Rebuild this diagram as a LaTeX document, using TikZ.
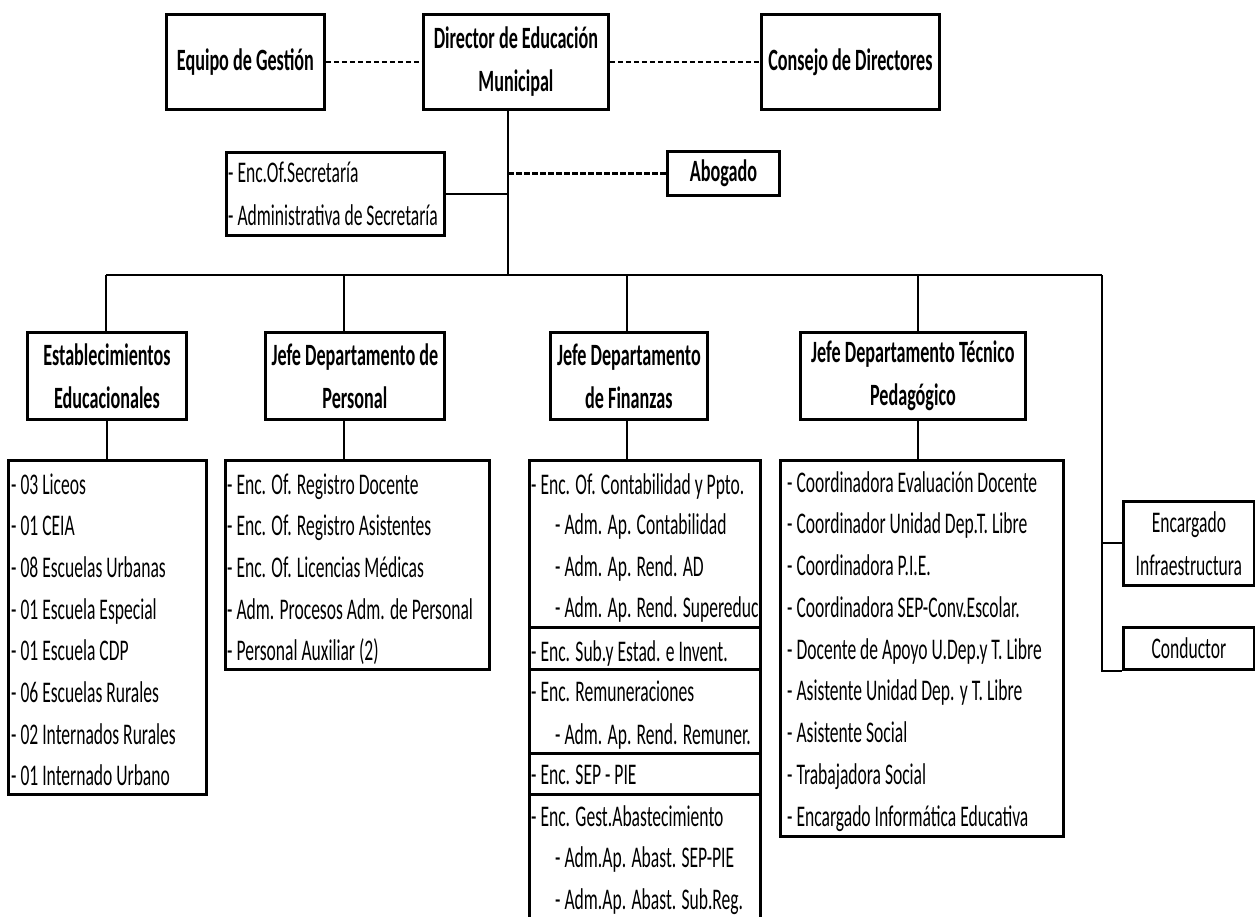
\documentclass[tikz,border=0pt]{standalone}
\usepackage{fontspec}
\setmainfont{Carlito}[FakeStretch=0.585]
\usetikzlibrary{calc}
\begin{document}
\begin{tikzpicture}[x=1pt,y=-1pt,
  box/.style={draw, line width=2.8pt, rectangle, inner sep=0pt, anchor=north west},
  conn/.style={line width=2.1pt},
  dashline/.style={line width=2.4pt, dash pattern=on 5.5pt off 2.5pt},
  hd/.style={font=\fontsize{31}{43}\selectfont\bfseries, align=center},
  rg/.style={font=\fontsize{30}{43}\selectfont, align=center},
  lt/.style={font=\fontsize{30}{34}\selectfont, anchor=base west, inner sep=0pt}]
\useasboundingbox (0,0) rectangle (1255,916);

% top row
\node[box, hd, minimum width=158pt, minimum height=95pt] (eq) at (165,13) {Equipo de Gestión};
\node[box, hd, minimum width=185pt, minimum height=95pt] (dir) at (422,13) {Director de Educación\\Municipal};
\node[box, hd, minimum width=178pt, minimum height=95pt] (cons) at (760,13) {Consejo de Directores};
\draw[dashline] (eq.east) -- (dir.west);
\draw[dashline] (dir.east) -- (cons.west);

% staff
\node[box, minimum width=218pt, minimum height=83pt] (sec) at (225,151) {};
\node[lt] (sec1) at (228,182) {- Enc.Of.Secretaría};
\node[lt] (sec2) at (228,225) {- Administrativa de Secretaría};
\node[box, hd, minimum width=112pt, minimum height=44pt] (abo) at (666,150) {Abogado};

\coordinate (tr) at (508,275);
\draw[conn] (dir.south -| tr) -- (tr);
\draw[conn] (sec.east) -- (sec.east -| tr);
\draw[dashline] (abo.west -| tr) -- (abo.west);

% bus
\coordinate (bl) at (106,275);
\coordinate (br) at (1102,275);
\coordinate (pd) at (344,275);
\coordinate (fd) at (627,275);
\coordinate (td) at (918,275);
\draw[conn] (bl) -- (br);

% level 2
\node[box, hd, minimum width=159pt, minimum height=87pt] (est) at (26,331) {Establecimientos\\Educacionales};
\node[box, hd, minimum width=179pt, minimum height=87pt] (per) at (264,331) {Jefe Departamento de\\Personal};
\node[box, hd, minimum width=157pt, minimum height=87pt] (fin) at (549,331) {Jefe Departamento\\de Finanzas};
\node[box, hd, minimum width=225pt, minimum height=87pt] (tec) at (799,331) {Jefe Departamento Técnico\\Pedagógico};

% level 3
\node[box, minimum width=198pt, minimum height=334pt] (lic) at (7,459) {};
\node[box, minimum width=264pt, minimum height=209pt] (plist) at (224,459) {};
\node[box, minimum width=231pt, minimum height=167pt] (f1) at (528,459) {};
\node[box, minimum width=231pt, minimum height=42pt] (f2) at (528,626) {};
\node[box, minimum width=231pt, minimum height=84pt] (f3) at (528,668) {};
\node[box, minimum width=231pt, minimum height=41pt] (f4) at (528,752) {};
\node[box, minimum width=231pt, minimum height=140pt] (f5) at (528,793) {};
\node[box, minimum width=283pt, minimum height=376pt] (tlist) at (779,459) {};

\node[box, rg, minimum width=131pt, minimum height=84pt] (enc) at (1122,500) {Encargado\\Infraestructura};
\node[box, rg, minimum width=131pt, minimum height=42pt] (cond) at (1122,626) {Conductor};

% connectors
\draw[conn] (bl) -- (bl |- est.north);
\draw[conn] (est.south) -- (est.south |- lic.north);
\draw[conn] (pd) -- (pd |- per.north);
\draw[conn] (per.south -| pd) -- (pd |- plist.north);
\draw[conn] (fd) -- (fd |- fin.north);
\draw[conn] (fin.south -| fd) -- (fd |- f1.north);
\draw[conn] (td) -- (td |- tec.north);
\draw[conn] (tec.south -| td) -- (td |- tlist.north);
\draw[conn] (br) -- (br |- cond.south) -- (cond.south west);
\draw[conn] (br |- enc.west) -- (enc.west);

% list texts
\foreach \t [count=\i from 0] in {- 03 Liceos, - 01 CEIA, - 08 Escuelas Urbanas, - 01 Escuela Especial, - 01 Escuela CDP, - 06 Escuelas Rurales, - 02 Internados Rurales, - 01 Internado Urbano}
  \node[lt] (l\i) at (11,{494+41.7*\i}) {\t};
\foreach \t [count=\i from 0] in {- Enc. Of. Registro Docente, - Enc. Of. Registro Asistentes, - Enc. Of. Licencias Médicas, - Adm. Procesos Adm. de Personal, - Personal Auxiliar (2)}
  \node[lt] (p\i) at (227,{494+41.7*\i}) {\t};
\foreach \t [count=\i from 0] in {- Coordinadora Evaluación Docente, - Coordinador Unidad Dep.T. Libre, - Coordinadora P.I.E., - Coordinadora SEP-Conv.Escolar., - Docente de Apoyo U.Dep.y T. Libre, - Asistente Unidad Dep. y T. Libre, - Asistente Social, - Trabajadora Social, - Encargado Informática Educativa}
  \node[lt] (t\i) at (787,{492+41.75*\i}) {\t};

\node[lt] (fa) at (531,494) {- Enc. Of. Contabilidad y Ppto.};
\node[lt] (fb) at (555,534) {- Adm. Ap. Contabilidad};
\node[lt] (fc) at (555,576) {- Adm. Ap. Rend. AD};
\node[lt] (fd1) at (555,617) {- Adm. Ap. Rend. Supereduc};
\node[lt] (fe) at (531,661) {- Enc. Sub.y Estad. e Invent.};
\node[lt] (ff) at (531,701) {- Enc. Remuneraciones};
\node[lt] (fg) at (555,744) {- Adm. Ap. Rend. Remuner.};
\node[lt] (fh) at (531,784) {- Enc. SEP - PIE};
\node[lt] (fi) at (531,826) {- Enc. Gest.Abastecimiento};
\node[lt] (fj) at (555,867) {- Adm.Ap. Abast. SEP-PIE};
\node[lt] (fk) at (555,909) {- Adm.Ap. Abast. Sub.Reg.};
\end{tikzpicture}
\end{document}
